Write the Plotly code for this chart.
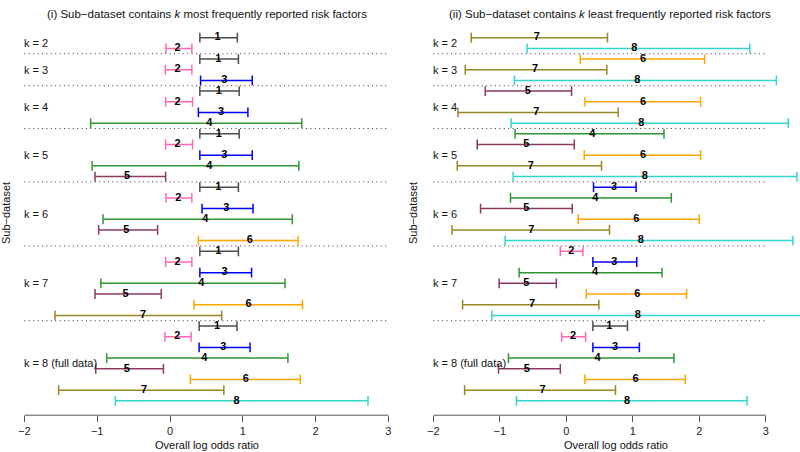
import plotly.graph_objects as go

W, H = 800, 452

# ---------------- data ----------------
k_values = [2, 3, 4, 5, 6, 7, 8]
k_labels = ["k = 2", "k = 3", "k = 4", "k = 5", "k = 6", "k = 7", "k = 8 (full data)"]

# (i) k most frequently reported risk factors: factors 1..k in each sub-dataset
most_factor = [1, 2,
               1, 2, 3,
               1, 2, 3, 4,
               1, 2, 3, 4, 5,
               1, 2, 3, 4, 5, 6,
               1, 2, 3, 4, 5, 6, 7,
               1, 2, 3, 4, 5, 6, 7, 8]
most_est = [0.655, 0.105,
            0.665, 0.105, 0.746,
            0.67, 0.105, 0.70, 0.54,
            0.67, 0.105, 0.746, 0.54, -0.59,
            0.665, 0.115, 0.774, 0.486, -0.60, 1.095,
            0.665, 0.105, 0.75, 0.43, -0.61, 1.08, -0.37,
            0.646, 0.10, 0.733, 0.471, -0.593, 1.041, -0.358, 0.914]
most_lo = [0.41, -0.055,
           0.41, -0.064, 0.42,
           0.41, -0.06, 0.39, -1.09,
           0.41, -0.06, 0.41, -1.07, -1.03,
           0.41, -0.055, 0.44, -0.92, -0.98, 0.39,
           0.41, -0.06, 0.41, -0.95, -1.03, 0.33, -1.58,
           0.40, -0.07, 0.40, -0.87, -1.02, 0.28, -1.53, -0.75]
most_hi = [0.925, 0.30,
           0.94, 0.30, 1.13,
           0.95, 0.31, 1.07, 1.81,
           0.95, 0.31, 1.13, 1.77, -0.06,
           0.94, 0.30, 1.14, 1.68, -0.17, 1.76,
           0.94, 0.30, 1.12, 1.58, -0.12, 1.82, 0.71,
           0.92, 0.29, 1.10, 1.62, -0.09, 1.79, 0.74, 2.72]

# (ii) k least frequently reported risk factors: factors 9-k..8
least_factor = [7, 8,
                6, 7, 8,
                5, 6, 7, 8,
                4, 5, 6, 7, 8,
                3, 4, 5, 6, 7, 8,
                2, 3, 4, 5, 6, 7, 8,
                1, 2, 3, 4, 5, 6, 7, 8]
least_est = [-0.445, 1.023,
             1.154, -0.47, 1.068,
             -0.58, 1.154, -0.45, 1.13,
             0.39, -0.60, 1.154, -0.535, 1.18,
             0.718, 0.437, -0.60, 1.053, -0.526, 1.12,
             0.075, 0.722, 0.432, -0.60, 1.068, -0.516, 1.074,
             0.646, 0.10, 0.733, 0.471, -0.593, 1.041, -0.358, 0.914]
least_lo = [-1.43, -0.59,
            0.21, -1.52, -0.78,
            -1.22, 0.28, -1.63, -0.83,
            -0.77, -1.34, 0.27, -1.64, -0.80,
            0.41, -0.84, -1.29, 0.18, -1.72, -0.92,
            -0.09, 0.40, -0.71, -1.01, 0.30, -1.56, -1.12,
            0.40, -0.07, 0.40, -0.87, -1.02, 0.28, -1.53, -0.75]
least_hi = [0.62, 2.76,
            2.08, 0.61, 3.16,
            0.08, 2.02, 0.78, 3.34,
            1.47, 0.12, 2.02, 0.53, 3.47,
            1.05, 1.58, 0.09, 2.00, 0.65, 3.41,
            0.25, 1.06, 1.44, -0.15, 1.81, 0.49, 3.60,
            0.92, 0.29, 1.10, 1.62, -0.09, 1.79, 0.74, 2.72]

factor_colors = {1: "#4d4d4d", 2: "#ff69b4", 3: "#0000ff", 4: "#2e9632",
                 5: "#8b3a62", 6: "#ffa500", 7: "#9a8524", 8: "#33d6cf"}

x_ticks = [-2, -1, 0, 1, 2, 3]
titles = ["(i) Sub\u2212dataset contains <i>k</i> most frequently reported risk factors",
          "(ii) Sub\u2212dataset contains <i>k</i> least frequently reported risk factors"]

FONT = "Liberation Sans, Arial, Helvetica, sans-serif"

# ---------------- layout geometry (pixels) ----------------
plot_top, plot_bot = 23.2, 415.2
row0_px, row_step = 37.7, 10.68
n_rows = sum(k_values)
y_top = -(row0_px - plot_top) / row_step
y_bot = (plot_bot - row0_px) / row_step

panels = [
    dict(factor=most_factor, est=most_est, lo=most_lo, hi=most_hi,
         xpx=(10, 400), zero_px=170.0, unit_px=72.8, xa="x", ya="y",
         title_x=207, ytitle_x=6, xtitle_x=206.5),
    dict(factor=least_factor, est=least_est, lo=least_lo, hi=least_hi,
         xpx=(405, 800), zero_px=566.3, unit_px=66.47, xa="x2", ya="y2",
         title_x=610, ytitle_x=413, xtitle_x=616),
]

fig = go.Figure()
shapes = []
annotations = []

for p_i, p in enumerate(panels):
    rows = list(range(n_rows))
    seps = []
    label_y = []
    start = 0
    for k in k_values:
        label_y.append(start + (k - 1) / 2)
        start += k
        if start < n_rows:
            seps.append(start - 0.5)

    for f in range(1, 9):
        idx = [i for i, ff in enumerate(p["factor"]) if ff == f]
        if not idx:
            continue
        xs, ys = [], []
        for i in idx:
            xs += [p["lo"][i], p["hi"][i], None]
            ys += [rows[i], rows[i], None]
        col = factor_colors[f]
        fig.add_trace(go.Scatter(
            x=xs, y=ys, mode="lines+markers", xaxis=p["xa"], yaxis=p["ya"],
            line=dict(color=col, width=1.5),
            marker=dict(symbol="line-ns", size=7, line=dict(color=col, width=1.5)),
            hoverinfo="skip", showlegend=False))
        fig.add_trace(go.Scatter(
            x=[p["est"][i] for i in idx], y=[rows[i] for i in idx],
            mode="text", text=[str(f)] * len(idx), textposition="middle center",
            textfont=dict(family=FONT, size=11, color="black", weight="bold"),
            xaxis=p["xa"], yaxis=p["ya"], hoverinfo="skip", showlegend=False))

    for s in seps:
        shapes.append(dict(type="line", xref=p["xa"], yref=p["ya"],
                           x0=x_ticks[0], x1=x_ticks[-1], y0=s, y1=s,
                           line=dict(color="#333333", width=1, dash="1px,3.4px")))
    shapes.append(dict(type="line", xref=p["xa"], yref="paper",
                       x0=x_ticks[0], x1=x_ticks[-1],
                       y0=1 - plot_bot / H, y1=1 - plot_bot / H,
                       line=dict(color="#555555", width=1)))

    for lab, ly in zip(k_labels, label_y):
        annotations.append(dict(x=x_ticks[0], y=ly, xref=p["xa"], yref=p["ya"],
                                text=lab, showarrow=False, xanchor="left",
                                yanchor="middle", xshift=-2,
                                font=dict(family=FONT, size=11, color="#111111")))

    annotations.append(dict(x=p["title_x"] / W, y=1 - 14 / H, xref="paper", yref="paper",
                            text=titles[p_i], showarrow=False, xanchor="center",
                            yanchor="middle", font=dict(family=FONT, size=11.5, color="#111111")))
    annotations.append(dict(x=p["ytitle_x"] / W, y=1 - 213 / H, xref="paper", yref="paper",
                            text="Sub\u2212dataset", showarrow=False, textangle=-90,
                            xanchor="center", yanchor="middle",
                            font=dict(family=FONT, size=11, color="#111111")))
    annotations.append(dict(x=p["xtitle_x"] / W, y=1 - 445 / H, xref="paper", yref="paper",
                            text="Overall log odds ratio", showarrow=False,
                            xanchor="center", yanchor="middle",
                            font=dict(family=FONT, size=11, color="#111111")))

axis_common = dict(showgrid=False, zeroline=False, showline=False)
for p_i, p in enumerate(panels):
    x0px, x1px = p["xpx"]
    rng = [(x0px - p["zero_px"]) / p["unit_px"], (x1px - p["zero_px"]) / p["unit_px"]]
    xkey = "xaxis" if p_i == 0 else "xaxis2"
    ykey = "yaxis" if p_i == 0 else "yaxis2"
    fig.layout[xkey] = dict(
        domain=[x0px / W, x1px / W], range=rng, tickvals=x_ticks,
        ticktext=[("\u2212" + str(-t)) if t < 0 else str(t) for t in x_ticks],
        ticks="outside", ticklen=6, tickcolor="#555555", tickwidth=1,
        tickfont=dict(family=FONT, size=11, color="#222222"),
        anchor="y" if p_i == 0 else "y2", fixedrange=True, **axis_common)
    fig.layout[ykey] = dict(
        domain=[1 - plot_bot / H, 1 - plot_top / H], range=[y_bot, y_top],
        showticklabels=False, ticks="", anchor="x" if p_i == 0 else "x2",
        fixedrange=True, **axis_common)

fig.update_layout(
    width=W, height=H, margin=dict(l=0, r=0, t=0, b=0),
    paper_bgcolor="white", plot_bgcolor="white",
    shapes=shapes, annotations=annotations, showlegend=False,
    font=dict(family=FONT))

fig.write_html("out.html", config={"displayModeBar": False},
               post_script="document.body.style.margin='0';document.body.style.overflow='hidden';")
